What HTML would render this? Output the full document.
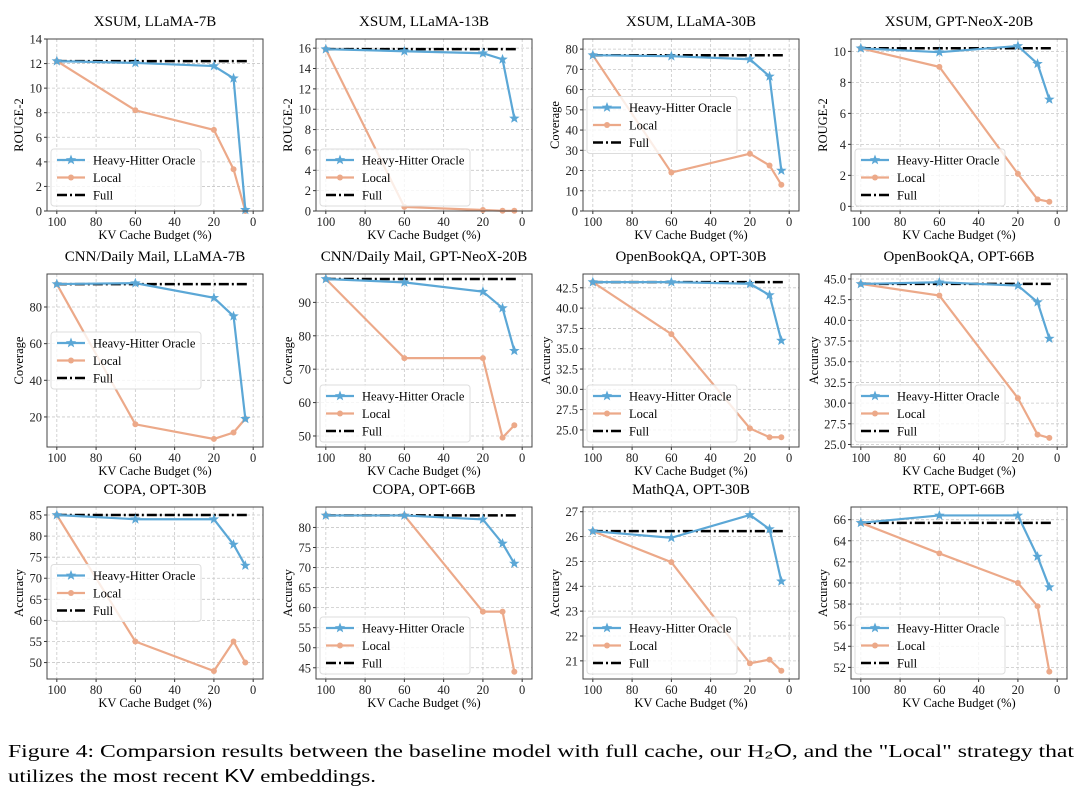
<!DOCTYPE html>
<html><head><meta charset="utf-8"><style>
html,body{margin:0;padding:0;background:#fff;}
svg{display:block;font-family:"Liberation Serif",serif;}
</style></head><body>
<svg id="fig" width="1080" height="795" viewBox="0 0 1080 795" xmlns="http://www.w3.org/2000/svg">
<text x="8" y="757" font-size="18" textLength="1066" lengthAdjust="spacingAndGlyphs">Figure 4: Comparsion results between the baseline model with full cache, our H<tspan font-family="Liberation Sans,sans-serif">₂O</tspan>, and the "Local" strategy that</text>
<text x="8" y="782" font-size="18" textLength="368" lengthAdjust="spacingAndGlyphs">utilizes the most recent <tspan font-family="Liberation Sans,sans-serif">KV</tspan> embeddings.</text>
</svg>
<script>
const budgets = [100, 60, 20, 10, 4];
const xTicks = [100, 80, 60, 40, 20, 0];
const titles = ["XSUM, LLaMA-7B","XSUM, LLaMA-13B","XSUM, LLaMA-30B","XSUM, GPT-NeoX-20B",
"CNN/Daily Mail, LLaMA-7B","CNN/Daily Mail, GPT-NeoX-20B","OpenBookQA, OPT-30B","OpenBookQA, OPT-66B",
"COPA, OPT-30B","COPA, OPT-66B","MathQA, OPT-30B","RTE, OPT-66B"];
const yLabels = ["ROUGE-2","ROUGE-2","Coverage","ROUGE-2","Coverage","Coverage","Accuracy","Accuracy","Accuracy","Accuracy","Accuracy","Accuracy"];
const hhValues = [
[12.2,12.05,11.8,10.8,0.1],[15.9,15.7,15.5,14.9,9.1],[77,76.5,75,66.5,20],[10.2,9.95,10.35,9.2,6.9],
[92.5,93,85,75,19],[97,96,93.2,88.3,75.5],[43.2,43.2,43.0,41.6,36.0],[44.4,44.6,44.2,42.2,37.8],
[85,84,84,78,73],[83,83,82,76,71],[26.22,25.95,26.87,26.3,24.2],[65.7,66.4,66.4,62.5,59.6]];
const localValues = [
[12.2,8.2,6.6,3.4,0],[15.9,0.4,0.1,0.02,0.02],[77,19,28.3,22.5,13],[10.2,9.0,2.1,0.45,0.3],
[92.5,16,8,11.5,19],[97,73.3,73.3,49.5,53.2],[43.2,36.8,25.2,24.1,24.1],[44.4,43,30.6,26.2,25.8],
[85,55,48,55,50],[83,83,59,59,44],[26.22,24.97,20.9,21.05,20.6],[65.7,62.8,60,57.8,51.6]];
const fullValues = [12.2,15.9,77,10.2,92.5,97,43.2,44.4,85,83,26.22,65.7];
const yDomains = [[0,14],[0,16.9],[0,85],[-0.3,10.8],[3.6,98],[46.7,98.5],[22.9,44.2],[24.7,45.6],[46.1,86.9],[42.2,85.1],[20.27,27.19],[50.9,67.2]];
const yTicks = [
[0,2,4,6,8,10,12,14],[0,2,4,6,8,10,12,14,16],[0,10,20,30,40,50,60,70,80],[0,2,4,6,8,10],
[20,40,60,80],[50,60,70,80,90],[25,27.5,30,32.5,35,37.5,40,42.5],[25,27.5,30,32.5,35,37.5,40,42.5,45],
[50,55,60,65,70,75,80,85],[45,50,55,60,65,70,75,80],[21,22,23,24,25,26,27],[52,54,56,58,60,62,64,66]];
const tickDecimals = [0,0,0,0,0,0,1,1,0,0,0,0];
const legendPos = ["low","low","mid","low","mid","low","low","low","mid","low","low","low"];

const NS = "http://www.w3.org/2000/svg";
const svg = document.getElementById("fig");
const colL = [47,316,583,851], W = 216;
const rowT = [39,274,507], rowB = [211,447,679];
const BLUE = "#5ba7d6", ORANGE = "#eca989";
function mk(tag, attrs, parent){const e=document.createElementNS(NS,tag);for(const k in attrs)e.setAttribute(k,attrs[k]);(parent||svg).appendChild(e);return e;}
function star(cx,cy,r){let p=[];for(let i=0;i<10;i++){const a=-Math.PI/2+i*Math.PI/5;const rr=i%2?r*0.42:r;p.push((cx+rr*Math.cos(a)).toFixed(1)+","+(cy+rr*Math.sin(a)).toFixed(1));}return p.join(" ");}

for(let i=0;i<12;i++){
  const r=Math.floor(i/4), c=i%4;
  const L=colL[c], R=L+W, T=rowT[r], B=rowB[r];
  const xs=v=>L+(105-v)/110*W;
  const [y0,y1]=yDomains[i];
  const ys=v=>B-(v-y0)/(y1-y0)*(B-T);
  const g=mk("g",{});
  
  
  const t=mk("text",{x:(L+R)/2,y:T-13,"font-size":15,"text-anchor":"middle"},g);t.textContent=titles[i];
  
  
  xTicks.forEach(v=>{const x=xs(v);
    mk("line",{x1:x,x2:x,y1:T,y2:B,stroke:"#c8c8c8","stroke-width":0.8,"stroke-dasharray":"3,2"},g);
    mk("line",{x1:x,x2:x,y1:B,y2:B+3,stroke:"#333"},g);
    const tl=mk("text",{x:x,y:B+15,"font-size":12.5,"text-anchor":"middle",fill:"#222"},g);tl.textContent=v;
    
    
  });
  yTicks[i].forEach(v=>{const y=ys(v);
    mk("line",{x1:L,x2:R,y1:y,y2:y,stroke:"#c8c8c8","stroke-width":0.8,"stroke-dasharray":"3,2"},g);
    mk("line",{x1:L-3,x2:L,y1:y,y2:y,stroke:"#333"},g);
    const tl=mk("text",{x:L-5,y:y+4.5,"font-size":12.5,"text-anchor":"end",fill:"#222"},g);tl.textContent=v.toFixed(tickDecimals[i]);
    
    
  });
  const xl=mk("text",{x:(L+R)/2,y:B+28,"font-size":12.5,"text-anchor":"middle"},g);xl.textContent="KV Cache Budget (%)";
  
  
  const yx=L-(tickDecimals[i]?33:(yTicks[i][yTicks[i].length-1]>=10?24:18));
  const yl=mk("text",{x:yx,y:(T+B)/2,"font-size":12.5,"text-anchor":"middle",transform:`rotate(-90 ${yx} ${(T+B)/2})`},g);yl.textContent=yLabels[i];
  
  
  const fl=mk("line",{x1:xs(100),x2:xs(2),y1:ys(fullValues[i]),y2:ys(fullValues[i]),stroke:"#000","stroke-width":2.5,"stroke-dasharray":"10,3,2,3"},g);
  
  
  const lp=mk("polyline",{points:budgets.map((b,k)=>xs(b)+","+ys(localValues[i][k])).join(" "),fill:"none",stroke:ORANGE,"stroke-width":2.2},g);
  
  
  budgets.forEach((b,k)=>{const m=mk("circle",{cx:xs(b),cy:ys(localValues[i][k]),r:3,fill:ORANGE},g);
    
    });
  const hp=mk("polyline",{points:budgets.map((b,k)=>xs(b)+","+ys(hhValues[i][k])).join(" "),fill:"none",stroke:BLUE,"stroke-width":2.2},g);
  
  
  budgets.forEach((b,k)=>{const m=mk("polygon",{points:star(xs(b),ys(hhValues[i][k]),5.5),fill:BLUE},g);
    
    });
  mk("rect",{x:L,y:T,width:W,height:B-T,fill:"none",stroke:"#444","stroke-width":1},g);
  const lh=57, lw=150;
  const ly = legendPos[i]==="low" ? B-lh-5 : T+(B-T)/2-lh/2;
  const lx = L+4;
  const lg=mk("g",{},g);
  
  
  mk("rect",{x:lx,y:ly,width:lw,height:lh,rx:3,fill:"rgba(255,255,255,0.8)",stroke:"#ddd"},lg);
  const items=[["Heavy-Hitter Oracle",BLUE,"star"],["Local",ORANGE,"dot"],["Full","#000","dash"]];
  items.forEach((it,k)=>{const yy=ly+11+k*17.5;
    const le=mk("g",{},lg);
    
    
    if(it[2]==="dash") mk("line",{x1:lx+6,x2:lx+34,y1:yy,y2:yy,stroke:"#000","stroke-width":2.5,"stroke-dasharray":"10,3,2,3"},le);
    else mk("line",{x1:lx+6,x2:lx+34,y1:yy,y2:yy,stroke:it[1],"stroke-width":2.2},le);
    if(it[2]==="star") mk("polygon",{points:star(lx+20,yy,5.5),fill:BLUE},le);
    if(it[2]==="dot") mk("circle",{cx:lx+20,cy:yy,r:3,fill:ORANGE},le);
    const tx=mk("text",{x:lx+42,y:yy+4.5,"font-size":12.5},le);tx.textContent=it[0];
  });
}
</script>
</body></html>
